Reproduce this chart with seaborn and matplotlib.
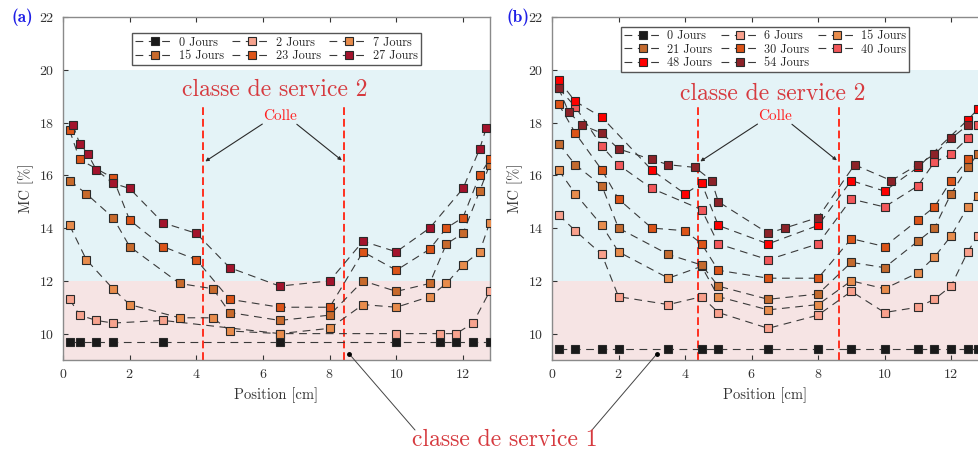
import numpy as np
import pandas as pd
import matplotlib.pyplot as plt
import seaborn as sns

# ---- donnees (a) ----
a_labels = ['0 Jours', '2 Jours', '7 Jours', '15 Jours', '23 Jours', '27 Jours']
a_colors = ['#1a1a1a', '#f7a38e', '#e88c4c', '#c86a2c', '#dc5418', '#a3132c']
a_x = [
    [0.2, 0.5, 1.0, 1.5, 3.0, 6.5, 10.0, 11.3, 11.8, 12.3, 12.8],
    [0.2, 0.5, 1.0, 1.5, 3.0, 6.5, 10.0, 11.3, 11.8, 12.3, 12.8],
    [0.2, 0.7, 1.5, 2.0, 3.5, 4.5, 5.0, 6.5, 8.0, 9.0, 10.0, 11.0, 11.5, 12.0, 12.5, 12.8],
    [0.2, 0.7, 1.5, 2.0, 3.5, 4.5, 5.0, 6.5, 8.0, 9.0, 10.0, 11.0, 11.5, 12.0, 12.5, 12.8],
    [0.2, 0.5, 1.5, 2.0, 3.0, 4.0, 5.0, 6.5, 8.0, 9.0, 10.0, 11.0, 11.5, 12.0, 12.5, 12.8],
    [0.3, 0.5, 0.75, 1.0, 1.5, 2.0, 3.0, 4.0, 5.0, 6.5, 8.0, 9.0, 10.0, 11.0, 12.0, 12.5, 12.7],
]
a_y = [
    [9.7, 9.7, 9.7, 9.7, 9.7, 9.7, 9.7, 9.7, 9.7, 9.7, 9.7],
    [11.3, 10.7, 10.5, 10.4, 10.5, 10.0, 10.0, 10.0, 10.0, 10.4, 11.6],
    [14.1, 12.8, 11.7, 11.1, 10.6, 10.6, 10.1, 10.0, 10.2, 11.1, 11.0, 11.4, 11.9, 12.6, 13.1, 14.2],
    [15.8, 15.3, 14.4, 13.3, 11.9, 11.7, 10.8, 10.5, 10.7, 12.0, 11.6, 11.9, 13.4, 13.8, 15.4, 16.4],
    [17.7, 16.6, 15.9, 14.3, 13.3, 12.8, 11.3, 11.0, 11.0, 13.1, 12.4, 13.2, 14.0, 14.4, 16.0, 16.6],
    [17.9, 17.2, 16.8, 16.2, 15.7, 15.5, 14.2, 13.8, 12.5, 11.8, 12.0, 13.5, 13.1, 14.0, 15.5, 17.0, 17.8],
]

# ---- donnees (b) ----
b_labels = ['0 Jours', '6 Jours', '15 Jours', '21 Jours', '30 Jours', '40 Jours', '48 Jours', '54 Jours']
b_colors = ['#1a1a1a', '#f9a08c', '#e88c4c', '#c46a2e', '#dc5418', '#f2575a', '#ff0000', '#8c2228']
b_x = [
    [0.2, 0.7, 1.5, 2.0, 3.5, 4.5, 5.0, 6.5, 8.0, 9.0, 10.0, 11.0, 11.5, 12.0, 12.5, 12.8],
    [0.2, 0.7, 1.5, 2.0, 3.5, 4.5, 5.0, 6.5, 8.0, 9.0, 10.0, 11.0, 11.5, 12.0, 12.5, 12.8],
    [0.2, 0.7, 1.5, 2.0, 3.5, 4.5, 5.0, 6.5, 8.0, 9.0, 10.0, 11.0, 11.5, 12.0, 12.5, 12.8],
    [0.2, 0.7, 1.5, 2.0, 3.5, 4.5, 5.0, 6.5, 8.0, 9.0, 10.0, 11.0, 11.5, 12.0, 12.5, 12.8],
    [0.2, 0.7, 1.5, 2.0, 3.0, 4.0, 4.5, 5.0, 6.5, 8.0, 9.0, 10.0, 11.0, 11.5, 12.0, 12.5],
    [0.2, 0.7, 1.5, 2.0, 3.0, 4.5, 5.0, 6.5, 8.0, 9.0, 10.0, 11.0, 11.5, 12.0, 12.5, 12.8],
    [0.2, 0.7, 1.5, 3.0, 4.0, 4.5, 5.0, 6.5, 8.0, 9.0, 10.0, 11.0, 12.5, 12.8],
    [0.2, 0.5, 0.9, 1.5, 2.0, 3.0, 3.5, 4.3, 4.8, 5.0, 6.5, 7.0, 8.0, 9.1, 10.2, 11.0, 11.5, 12.0, 12.5],
]
b_y = [
    [9.43] * 16,
    [14.5, 13.9, 13.0, 11.4, 11.1, 11.4, 10.8, 10.2, 10.7, 11.6, 10.8, 11.0, 11.3, 11.8, 13.1, 13.7],
    [16.2, 15.3, 14.1, 13.1, 12.1, 12.55, 11.4, 10.9, 11.1, 12.0, 11.7, 12.3, 12.9, 13.7, 14.8, 15.2],
    [17.2, 16.4, 15.6, 14.0, 13.0, 12.6, 11.8, 11.3, 11.5, 12.7, 12.5, 13.5, 14.0, 15.3, 16.3, 16.8],
    [18.7, 17.6, 16.2, 15.1, 14.0, 13.9, 13.4, 12.4, 12.1, 12.1, 13.6, 13.3, 14.3, 14.8, 15.8, 16.6],
    [19.3, 18.6, 17.1, 16.4, 15.5, 14.7, 13.4, 12.8, 13.4, 15.1, 14.8, 15.6, 16.5, 16.8, 17.4, 17.9],
    [19.6, 18.8, 18.2, 16.2, 15.3, 15.7, 14.1, 13.4, 14.1, 15.8, 15.4, 16.3, 18.1, 18.5],
    [19.3, 18.4, 17.9, 17.6, 17.0, 16.6, 16.4, 16.3, 15.8, 15.0, 13.8, 14.0, 14.4, 16.4, 15.8, 16.4, 16.8, 17.4, 17.9],
]

sns.set_style('ticks')
plt.rcParams['font.family'] = ['cmr10', 'DejaVu Serif']
plt.rcParams['axes.formatter.use_mathtext'] = True
plt.rcParams['mathtext.fontset'] = 'cm'

fig = plt.figure(figsize=(9.79, 4.57), dpi=100)
W, H = 979, 457
ax_a = fig.add_axes([63 / W, 1 - 360 / H, 427 / W, 343 / H])
ax_b = fig.add_axes([552 / W, 1 - 360 / H, 426 / W, 343 / H])

red_txt = '#d63a3f'


def draw_panel(ax, labels, colors, xs, ys, order, leg_top, colle_x, colle_lines, cds_x, cds_y):
    ax.axhspan(12, 20, color='#e4f3f7', lw=0, zorder=0)
    ax.axhspan(9, 12, color='#f6e4e4', lw=0, zorder=0)
    for lab, col, x, y in zip(labels, colors, xs, ys):
        df = pd.DataFrame({'Position': x, 'MC': y})
        sns.lineplot(data=df, x='Position', y='MC', ax=ax, sort=False, estimator=None,
                     color='#3a3a3a', lw=0.8, linestyle=(0, (7, 5)),
                     marker='s', markersize=5.8, markerfacecolor=col,
                     markeredgecolor='#2a2a2a', markeredgewidth=0.8, label=lab, zorder=3)
    for xv in colle_lines:
        ax.plot([xv, xv], [9, 18.6], color='#ff3020', lw=1.4, linestyle=(0, (4, 2)), zorder=2)
    ax.text(colle_x, 18.25, 'Colle', color='#ff2020', fontsize=11, ha='center', va='center')
    ax.annotate('', xy=(colle_lines[0], 16.47), xytext=(colle_x - 0.45, 18.0),
                arrowprops=dict(arrowstyle='-|>', color='#2a2a2a', lw=0.8, mutation_scale=5))
    ax.annotate('', xy=(colle_lines[1], 16.5), xytext=(colle_x + 0.45, 18.0),
                arrowprops=dict(arrowstyle='-|>', color='#2a2a2a', lw=0.8, mutation_scale=5))
    ax.text(cds_x, cds_y, 'classe de service 2', color=red_txt, fontsize=17,
            ha='center', va='center')

    ax.set_xlim(0, 12.81)
    ax.set_ylim(9, 22)
    ax.set_xticks(range(0, 13, 2))
    ax.set_yticks(range(10, 23, 2))
    ax.set_xlabel('Position [cm]', fontsize=10.5, color='#333333', labelpad=4)
    ax.set_ylabel('MC [%]', fontsize=10.5, color='#333333')
    ax.tick_params(direction='in', top=True, labelsize=10, colors='#333333',
                   length=3.5, width=0.8, pad=6)
    for s in ax.spines.values():
        s.set_color('#8a8a8a')
        s.set_linewidth(1.0)

    handles, labs = ax.get_legend_handles_labels()
    ax.legend([handles[i] for i in order], [labs[i] for i in order],
              ncol=3, loc='upper center', bbox_to_anchor=(0.5, leg_top),
              fontsize=8.8, handlelength=3.2, columnspacing=0.7, handletextpad=0.35,
              labelspacing=0.1, borderpad=0.25, fancybox=False, framealpha=1,
              edgecolor='#555555')


draw_panel(ax_a, a_labels, a_colors, a_x, a_y, [0, 3, 1, 4, 2, 5], 0.97,
           6.5, [4.2, 8.43], 6.36, 19.25)
draw_panel(ax_b, b_labels, b_colors, b_x, b_y, [0, 3, 6, 1, 4, 7, 2, 5], 0.988,
           6.7, [4.39, 8.63], 6.65, 19.1)
ax_b.spines['right'].set_visible(False)

# classe de service 1
fig.text(505 / W, 1 - 440 / H, 'classe de service 1', color=red_txt, fontsize=17,
         ha='center', va='center')
for ax, pt, tx in [(ax_a, (8.58, 9.24), (415, 430)), (ax_b, (3.16, 9.24), (592, 430))]:
    ax.plot([pt[0]], [pt[1]], 'o', color='black', markersize=2.5, zorder=5)
    ax.annotate('', xy=pt, xycoords='data', xytext=(tx[0] / W, 1 - tx[1] / H),
                textcoords='figure fraction', annotation_clip=False,
                arrowprops=dict(arrowstyle='-', color='#444444', lw=0.7, shrinkA=0, shrinkB=0))

fig.text(22 / W, 1 - 17 / H, '(a)', color='#1f1fe6', fontsize=12.5, fontfamily='cmb10',
         ha='center', va='center')
fig.text(518 / W, 1 - 17 / H, '(b)', color='#1f1fe6', fontsize=12.5, fontfamily='cmb10',
         ha='center', va='center')

fig.savefig('out.png', dpi=100)
